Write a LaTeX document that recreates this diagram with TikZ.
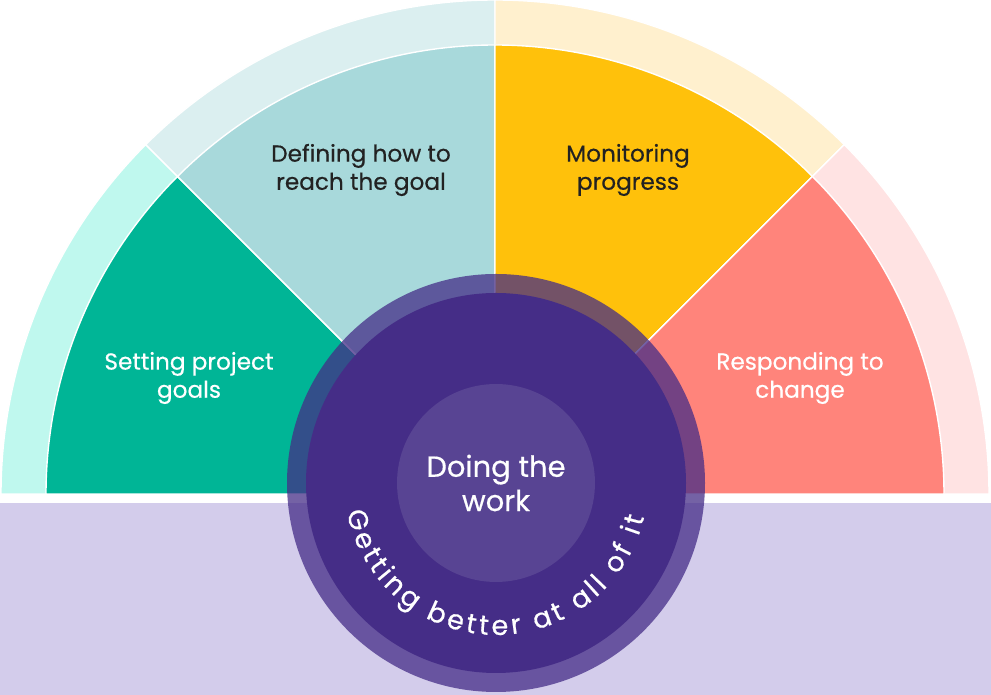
\documentclass[tikz,border=0pt]{standalone}
\usepackage{fontspec}
\setmainfont{Poppins}
\newfontfamily\popmid{Poppins}[FakeBold=0.45]
\usetikzlibrary{decorations.text}
\definecolor{goalgreen}{HTML}{00B596}
\definecolor{goalring}{HTML}{BFF8EE}
\definecolor{planteal}{HTML}{A8D9DB}
\definecolor{planring}{HTML}{DBEFF0}
\definecolor{watchgold}{HTML}{FFC10B}
\definecolor{watchring}{HTML}{FFF0CE}
\definecolor{changered}{HTML}{FF847B}
\definecolor{changering}{HTML}{FFE3E3}
\definecolor{basebar}{HTML}{D3CCEB}
\definecolor{workpurple}{HTML}{452D87}
\definecolor{workmid}{HTML}{584493}
\definecolor{ink}{HTML}{222222}
\tikzset{
  sector/.style={draw=white, line width=0.8pt, line join=round},
  lbl/.style={align=center, inner sep=1pt, font=\popmid\fontsize{13.2pt}{16pt}\selectfont},
}

\begin{document}
\begin{tikzpicture}[x=0.02cm, y=0.02cm,
        hubdisc/.style={circle, fill=workmid, minimum size=3.96cm, inner sep=0pt, align=center,
                        text=white, font=\popmid\fontsize{16.5pt}{19.5pt}\selectfont}]
        \useasboundingbox (0,0) rectangle (991,695);
        \coordinate (fan) at (495,201);
        \coordinate (hub) at (496,212);
        \foreach \a/\ringc/\corec in {180/goalring/goalgreen, 135/planring/planteal, 90/watchring/watchgold, 45/changering/changered}{
          \draw[sector,fill=\ringc] (fan) -- ++(\a:494) arc[start angle=\a, delta angle=-45, radius=494] -- cycle;
          \draw[sector,fill=\corec] (fan) -- ++(\a:449) arc[start angle=\a, delta angle=-45, radius=449] -- cycle;
        }
        \fill[basebar] (0,0) rectangle (991,192);
        \node[lbl,text=white] (goals) at (189,317) {Setting project\\goals};
        \node[lbl,text=ink] (define) at (361,525) {Defining how to\\reach the goal};
        \node[lbl,text=ink] (monitor) at (628,525) {Monitoring\\progress};
        \node[lbl,text=white] (respond) at (800,317) {Responding to\\change};
        \fill[workpurple,opacity=0.75] (hub) circle[radius=209];
        \fill[workpurple] (hub) circle[radius=190];
        \node[hubdisc] (work) at (hub) {Doing the\\work};
        \path[decorate, decoration={text along path, text align={fit to path}, text color=white,
              text={|\popmid\fontsize{15.5pt}{15.5pt}\selectfont|Getting better at all of it}}]
          (hub) ++(191:152) arc[start angle=191, end angle=347, radius=152];
      \end{tikzpicture}
\end{document}
